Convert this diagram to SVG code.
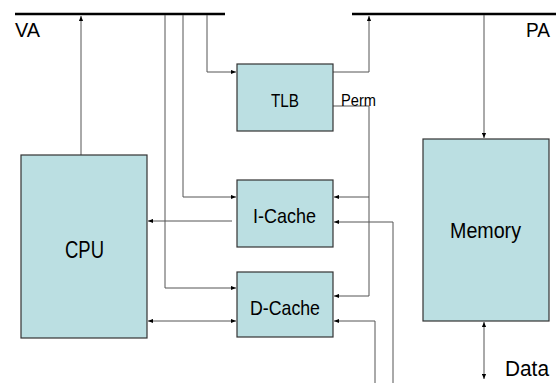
<svg xmlns="http://www.w3.org/2000/svg" width="558" height="383" viewBox="0 0 558 383">
<style>
.box{fill:#BBDFE2;stroke:#333;stroke-width:1.2}
.bus{stroke:#000;stroke-width:2.5;fill:none}
.ln{stroke:#555;stroke-width:1;fill:none}
.t{font-family:"Liberation Sans",Arial,sans-serif;fill:#000}
</style>
<defs>
<marker id="ah" viewBox="0 0 6 6" refX="6" refY="3" markerWidth="5" markerHeight="5" markerUnits="userSpaceOnUse" orient="auto-start-reverse">
<path d="M0,0.5 L6,3 L0,5.5 Z" fill="#000"/>
</marker>
</defs>
<rect width="558" height="383" fill="#fff"/>
<g id="buses">
<line class="bus" x1="15" y1="14" x2="225" y2="14"/>
<line class="bus" x1="352" y1="14" x2="556" y2="14"/>
<text class="t" x="15" y="37" font-size="20" textLength="25" lengthAdjust="spacingAndGlyphs">VA</text>
<text class="t" x="526" y="37" font-size="20" textLength="24" lengthAdjust="spacingAndGlyphs">PA</text>
</g>
<g id="connectors">
<polyline class="ln" points="81,155 81,16" marker-end="url(#ah)"/>
<polyline class="ln" points="207,15 207,72 236,72" marker-end="url(#ah)"/>
<polyline class="ln" points="183,15 183,197 236,197" marker-end="url(#ah)"/>
<polyline class="ln" points="165,15 165,288 236,288" marker-end="url(#ah)"/>
<polyline class="ln" points="232,221 148,221" marker-end="url(#ah)"/>
<polyline class="ln" points="148,321 236,321" marker-start="url(#ah)" marker-end="url(#ah)"/>
<polyline class="ln" points="333,72 369,72 369,16" marker-end="url(#ah)"/>
<polyline class="ln" points="333,106 369,106 369,296 334,296" marker-end="url(#ah)"/>
<polyline class="ln" points="369,197 334,197" marker-end="url(#ah)"/>
<polyline class="ln" points="393,383 393,222 334,222" marker-end="url(#ah)"/>
<polyline class="ln" points="375,383 375,321 334,321" marker-end="url(#ah)"/>
<polyline class="ln" points="484,15 484,138" marker-end="url(#ah)"/>
<polyline class="ln" points="484,322 484,379" marker-start="url(#ah)" marker-end="url(#ah)"/>
<text class="t" x="341" y="106" font-size="17" textLength="35" lengthAdjust="spacingAndGlyphs">Perm</text>
<text class="t" x="505" y="376" font-size="22" textLength="44" lengthAdjust="spacingAndGlyphs">Data</text>
</g>
<g id="cpu">
<rect class="box" x="21" y="155" width="126" height="183"/>
<text class="t" x="65" y="258" font-size="23" textLength="39" lengthAdjust="spacingAndGlyphs">CPU</text>
</g>
<g id="tlb">
<rect class="box" x="237" y="64" width="96" height="67"/>
<text class="t" x="271" y="107" font-size="19" textLength="28" lengthAdjust="spacingAndGlyphs">TLB</text>
</g>
<g id="icache">
<rect class="box" x="237" y="180" width="96" height="67"/>
<text class="t" x="253" y="223" font-size="21" textLength="63" lengthAdjust="spacingAndGlyphs">I-Cache</text>
</g>
<g id="dcache">
<rect class="box" x="237" y="272" width="96" height="65"/>
<text class="t" x="250" y="315" font-size="21" textLength="70" lengthAdjust="spacingAndGlyphs">D-Cache</text>
</g>
<g id="memory">
<rect class="box" x="423" y="139" width="126" height="182"/>
<text class="t" x="450" y="238" font-size="22" textLength="71" lengthAdjust="spacingAndGlyphs">Memory</text>
</g>
</svg>
